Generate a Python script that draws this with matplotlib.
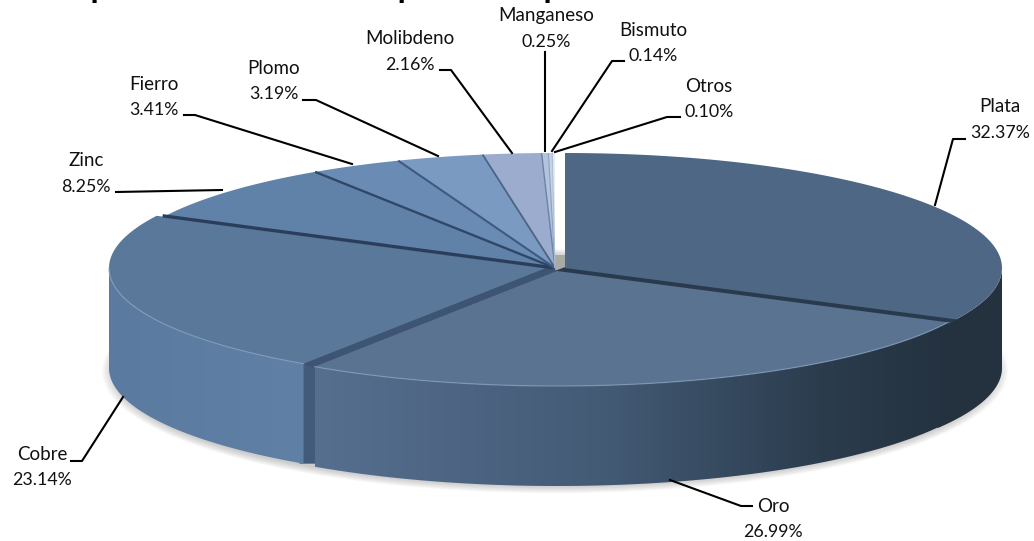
"""Gráfico de pastel 3D: participación de metales en las exportaciones."""

import matplotlib

matplotlib.use("Agg")

import matplotlib.pyplot as plt
import numpy as np
from matplotlib.colors import LinearSegmentedColormap
from matplotlib.patches import Ellipse, Polygon

METALS = ["Plata", "Oro", "Cobre", "Zinc", "Fierro", "Plomo", "Molibdeno",
          "Manganeso", "Bismuto", "Otros"]
SHARES = [32.37, 26.99, 23.14, 8.25, 3.41, 3.19, 2.16, 0.25, 0.14, 0.10]
TOP_COLORS = ["#4e6784", "#5a7391", "#5a7899", "#6082a9", "#6a8bb3", "#7b9ac2",
              "#9bacce", "#b4c3dc", "#c6d3e4", "#e6ecf3"]

CENTER_X, CENTER_Y = 555.0, 268.0
RADIUS_X, RADIUS_Y = 437.0, 115.0
DEPTH = 100.0

# desplazamiento de las porciones separadas
OFFSETS = {"Plata": (10, 0), "Oro": (2, 3), "Cobre": (-9, 0)}

# centro de la etiqueta y polilínea guía de cada metal
LABEL_XY = {
    "Plata": (1000, 120), "Oro": (773, 519), "Cobre": (42, 467), "Zinc": (86, 174),
    "Fierro": (154, 97), "Plomo": (274, 81), "Molibdeno": (410, 52),
    "Manganeso": (546, 29), "Bismuto": (653, 43), "Otros": (709, 99),
}
LEADERS = {
    "Plata": [(965, 139), (953, 139), (935, 205)],
    "Oro": [(752, 506), (741, 506), (670, 480)],
    "Cobre": [(71, 461), (82, 461), (123, 397)],
    "Zinc": [(116, 192), (222, 190)],
    "Fierro": [(184, 115), (195, 115), (352, 164)],
    "Plomo": [(303, 100), (316, 100), (438, 156)],
    "Molibdeno": [(440, 70), (451, 70), (512, 153)],
    "Manganeso": [(545, 52), (545, 151)],
    "Bismuto": [(624, 61), (612, 61), (552, 151)],
    "Otros": [(680, 117), (667, 117), (555, 152)],
}


def rim(theta, offset=(0, 0), drop=0.0):
    """Punto(s) del borde de la elipse; theta en grados, horario desde arriba."""
    rad = np.radians(np.atleast_1d(theta))
    x = CENTER_X + offset[0] + RADIUS_X * np.sin(rad)
    y = CENTER_Y + offset[1] + drop - RADIUS_Y * np.cos(rad)
    return np.column_stack([x, y])


def apex(offset=(0, 0)):
    return np.array([CENTER_X + offset[0], CENTER_Y + offset[1]])


def draw_gradient(ax, points, stops, zorder):
    """Rellenar un polígono con un degradado horizontal."""
    patch = Polygon(points, closed=True, facecolor="none", edgecolor="none", zorder=zorder)
    ax.add_patch(patch)
    left, right = points[:, 0].min(), points[:, 0].max()
    top, bottom = points[:, 1].min(), points[:, 1].max()
    cmap = LinearSegmentedColormap.from_list("grad", stops)
    image = ax.imshow(np.linspace(0, 1, 256).reshape(1, -1), cmap=cmap, aspect="auto",
                      extent=(left, right, bottom, top), zorder=zorder)
    image.set_clip_path(patch)


def draw_walls(ax, edges):
    """Paredes laterales visibles de Plata, Oro y Cobre."""
    walls = {
        # Plata sigue por detrás de Oro para que no quede hueco entre ambas
        "Plata": (90.0, edges[1] + 5, ["#253340", "#243240"], 2),
        "Oro": (edges[1], edges[2],
                [(0, "#566f8f"), (0.45, "#445b76"), (0.8, "#2b3c4d"), (1, "#243240")], 3),
        "Cobre": (edges[2], 270.0, ["#6080a6", "#5a7a9f"], 2),
    }
    for name, (start, stop, stops, zorder) in walls.items():
        theta = np.linspace(start, stop, 120)
        offset = OFFSETS[name]
        points = np.vstack([rim(theta, offset), rim(theta, offset, DEPTH)[::-1]])
        if name == "Cobre":
            stops = stops[::-1]
        draw_gradient(ax, points, stops, zorder)

    # cara interior de Oro, visible en el corte con Cobre
    right = rim(edges[2], OFFSETS["Oro"])[0]
    left = rim(edges[2], OFFSETS["Cobre"])[0]
    face = [left + (-4, 0), right + (4, 0), right + (4, DEPTH - 3), left + (-4, DEPTH)]
    ax.add_patch(Polygon(face, closed=True, facecolor="#435b7a", edgecolor="none", zorder=1.5))


def draw_gap(ax, theta, first, second, color):
    """Banda oscura entre dos porciones separadas."""
    points = [apex(first), rim(theta, first)[0], rim(theta, second)[0], apex(second)]
    ax.add_patch(Polygon(points, closed=True, facecolor=color, edgecolor=color, lw=1.2,
                         zorder=4.6))


def draw_tops(ax, edges):
    """Caras superiores y líneas de separación."""
    for i, name in enumerate(METALS):
        offset = OFFSETS.get(name, (0, 0))
        theta = np.linspace(edges[i], edges[i + 1], 80)
        ax.add_patch(Polygon(np.vstack([apex(offset), rim(theta, offset)]), closed=True,
                             facecolor=TOP_COLORS[i], edgecolor="none", zorder=5))

    # brillo del borde frontal
    for name, start, stop in (("Oro", edges[1], edges[2]), ("Cobre", edges[2], 270.0)):
        edge = rim(np.linspace(start, stop, 120), OFFSETS[name])
        ax.plot(edge[:, 0], edge[:, 1], color="#86a0bf", lw=0.9, alpha=0.7, zorder=6)

    # núcleo gris visible en el hueco junto a Plata
    ax.add_patch(Polygon([(552, 255), (566, 255), (566, 270), (552, 270)], closed=True,
                         facecolor="#a9aaa4", edgecolor="none", zorder=4.5))

    draw_gap(ax, edges[1], OFFSETS["Plata"], OFFSETS["Oro"], "#2a3a4e")
    draw_gap(ax, edges[2], OFFSETS["Oro"], OFFSETS["Cobre"], "#3d5472")

    dividers = {3: ("#2a3e5c", 2.4), 4: ("#2f4868", 1.7), 5: ("#3f5a80", 1.5),
                6: ("#4a6488", 1.3), 7: ("#6a82a6", 1.0), 8: ("#8ba0bf", 0.8),
                9: ("#aebdd2", 0.8)}
    for i, (color, width) in dividers.items():
        outer = rim(edges[i], (-3, 0))[0] if i == 3 else rim(edges[i])[0]
        ax.plot([CENTER_X, outer[0]], [CENTER_Y, outer[1]], color=color, lw=width,
                solid_capstyle="butt", zorder=7)


def main():
    plt.rcParams["font.family"] = ["Lato", "DejaVu Sans"]

    fig = plt.figure(figsize=(10.34, 5.41), dpi=100)
    ax = fig.add_axes([0, 0, 1, 1])

    edges = np.concatenate([[0.0], np.cumsum(SHARES)]) * 3.6

    # sombra difusa bajo el pastel
    for grow in np.linspace(0, 12, 10):
        ax.add_patch(Ellipse((CENTER_X, CENTER_Y + DEPTH + 3), 2 * (RADIUS_X + 4 + grow),
                             2 * (RADIUS_Y + grow * 0.6), facecolor="#6f6f6f",
                             edgecolor="none", alpha=0.04, zorder=1))

    draw_walls(ax, edges)
    draw_tops(ax, edges)

    for name, share in zip(METALS, SHARES):
        x, y = LABEL_XY[name]
        ax.text(x, y - 13, name, ha="center", va="center", fontsize=13.5,
                color="#111111", zorder=9)
        # los dígitos de Lato son más anchos que los del original
        ax.text(x, y + 13, f"{share:.2f}%", ha="center", va="center", fontsize=12.8,
                color="#111111", zorder=9)
        line = np.array(LEADERS[name])
        ax.plot(line[:, 0], line[:, 1], color="black", lw=1.5, zorder=8)

    # el título original queda recortado: solo asoman los trazos descendentes
    ax.text(53, -4, "Exportaciones mineras por metal producido", fontsize=22, fontweight="bold",
            family=["Liberation Sans"], ha="left", va="baseline", color="black", zorder=9)

    ax.set_xlim(0, 1034)
    ax.set_ylim(541, 0)
    ax.axis("off")
    fig.savefig("out.png", dpi=100, facecolor="white")
    plt.close(fig)


if __name__ == "__main__":
    main()
